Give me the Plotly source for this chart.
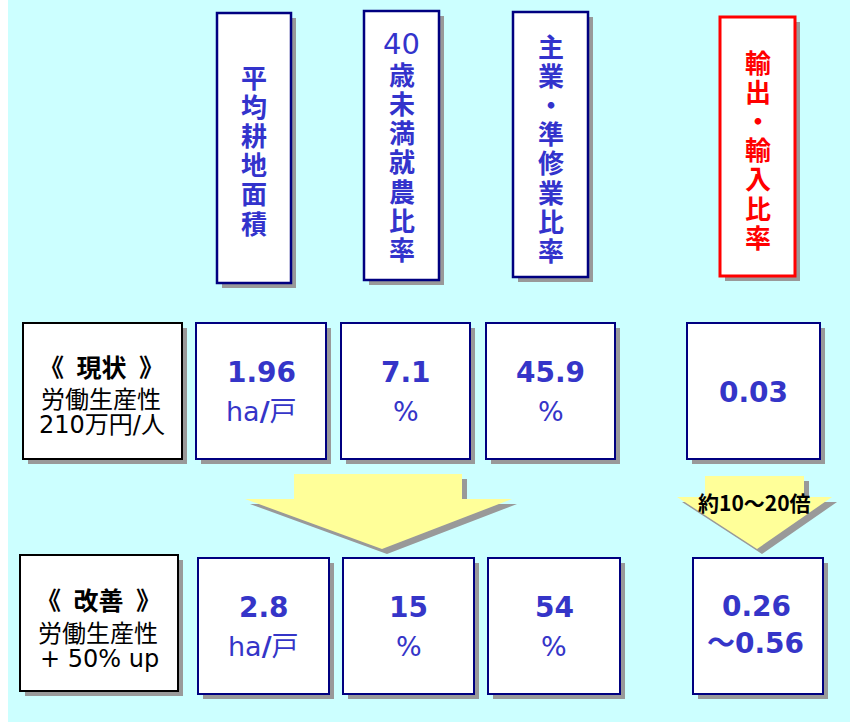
import plotly.graph_objects as go

# ---- data ----
header_chars = [
    list("平均耕地面積"),
    ["40"] + list("歳未満就農比率"),
    list("主業・準修業比率"),
    list("輸出・輸入比率"),
]
header_colors = ["#3333CC", "#3333CC", "#3333CC", "#FF0000"]
current_label = ["《 現状 》", "労働生産性", "210万円/人"]
target_label = ["《 改善 》", "労働生産性", "+ 50% up"]
current_values = ["1.96", "7.1", "45.9", "0.03"]
current_units = ["ha/戸", "%", "%", ""]
target_values = ["2.8", "15", "54", "0.26"]
target_units = ["ha/戸", "%", "%", "～0.56"]
ratio_note = "約10～20倍"

W, H = 850, 724
BLUE = "#3535C8"
NAVY = "#000080"
SHADOW = "#999999"
YELLOW = "#FFFF99"
CJK = "Noto Sans CJK JP"
NUM = "DejaVu Sans, Noto Sans CJK JP"
LAB = "DejaVu Sans, Noto Sans CJK JP"

shapes = []
ann = []


def box(x0, y0, x1, y1, line_color, lw=2, off=5):
    shapes.append(dict(type="rect", x0=x0 + off, y0=y0 + off, x1=x1 + off, y1=y1 + off,
                       fillcolor=SHADOW, line=dict(width=0)))
    shapes.append(dict(type="rect", x0=x0, y0=y0, x1=x1, y1=y1,
                       fillcolor="white", line=dict(color=line_color, width=lw)))


def text(x, y, s, size, color, family=CJK, bold=False):
    ann.append(dict(x=x, y=y, xref="x", yref="y", text=("<b>%s</b>" % s) if bold else s,
                    showarrow=False, xanchor="center", yanchor="middle",
                    font=dict(size=size, color=color, family=family)))


def unit(s):
    return s.replace("/", "<b>/</b>")


def title(s):
    return s.replace(" ", "\u2002")


# background
shapes.append(dict(type="rect", x0=8, y0=0, x1=W, y1=722, fillcolor="#CCFFFF",
                   line=dict(width=0), layer="below"))

# header boxes
hdr_boxes = [(217, 13, 291, 283), (364, 11, 439, 280), (513, 12, 588, 277), (720, 17, 795, 276)]
hdr_first_y = [76, 44, 45, 61]
for (x0, y0, x1, y1), chars, col, fy in zip(hdr_boxes, header_chars, header_colors, hdr_first_y):
    red = col == "#FF0000"
    box(x0, y0, x1, y1, "#FF0000" if red else NAVY, lw=3 if red else 2.5)
    cx = (x0 + x1) / 2
    for i, ch in enumerate(chars):
        if ch.isdigit():
            text(cx, fy + i * 29.2, ch, 29, col, family=NUM)
        else:
            text(cx, fy + i * 29.2, ch, 26, col, bold=True)

# row 1
box(23, 323, 182, 459, "black", lw=2)
text(101, 366, title(current_label[0]), 25, "black", bold=True)
text(101, 397, current_label[1], 24, "black")
text(102, 425, current_label[2], 24, "black", family=LAB)
row1 = [(196, 326), (341, 470), (486, 615), (687, 820)]
for (x0, x1), v, u in zip(row1, current_values, current_units):
    box(x0, 323, x1, 459, NAVY, lw=2)
    cx = (x0 + x1) / 2
    if u:
        text(cx, 372, v, 28, BLUE, family=NUM, bold=True)
        text(cx, 411, unit(u), 27, BLUE, family=NUM)
    else:
        text(cx, 392, v, 28, BLUE, family=NUM, bold=True)

# arrows
big = [(294, 474), (462, 474), (462, 499), (512, 499), (382, 549), (245, 499), (294, 499)]
small = [(705, 476), (804, 476), (804, 497), (832, 497), (757, 549), (677, 497), (705, 497)]
for pts in (big, small):
    p_sh = "M " + " L ".join("%g,%g" % (x + 5, y + 5) for x, y in pts) + " Z"
    p = "M " + " L ".join("%g,%g" % (x, y) for x, y in pts) + " Z"
    shapes.append(dict(type="path", path=p_sh, fillcolor=SHADOW, line=dict(width=0)))
    shapes.append(dict(type="path", path=p, fillcolor=YELLOW, line=dict(width=0)))
text(754, 502, ratio_note, 21, "black", bold=True)

# row 2
box(20, 555, 178, 691, "black", lw=2)
text(98, 599, title(target_label[0]), 25, "black", bold=True)
text(98, 631, target_label[1], 24, "black")
text(99, 659, target_label[2], 24, "black", family=LAB)
row2 = [(198, 329), (343, 474), (488, 620), (693, 823)]
for i, ((x0, x1), v, u) in enumerate(zip(row2, target_values, target_units)):
    box(x0, 558, x1, 694, NAVY, lw=2)
    cx = (x0 + x1) / 2
    if i < 3:
        text(cx, 607, v, 28, BLUE, family=NUM, bold=True)
        text(cx, 646, unit(u), 27, BLUE, family=NUM)
    else:
        text(cx - 2, 606, v, 28, BLUE, family=NUM, bold=True)
        text(cx - 3, 643, u, 28, BLUE, family=NUM, bold=True)

fig = go.Figure()
fig.update_layout(
    width=W, height=H, margin=dict(l=0, r=0, t=0, b=0),
    paper_bgcolor="white", plot_bgcolor="white",
    xaxis=dict(range=[0, W], visible=False, fixedrange=True),
    yaxis=dict(range=[H, 0], visible=False, fixedrange=True),
    shapes=shapes, annotations=ann, showlegend=False,
)
fig.write_html("out.html")
